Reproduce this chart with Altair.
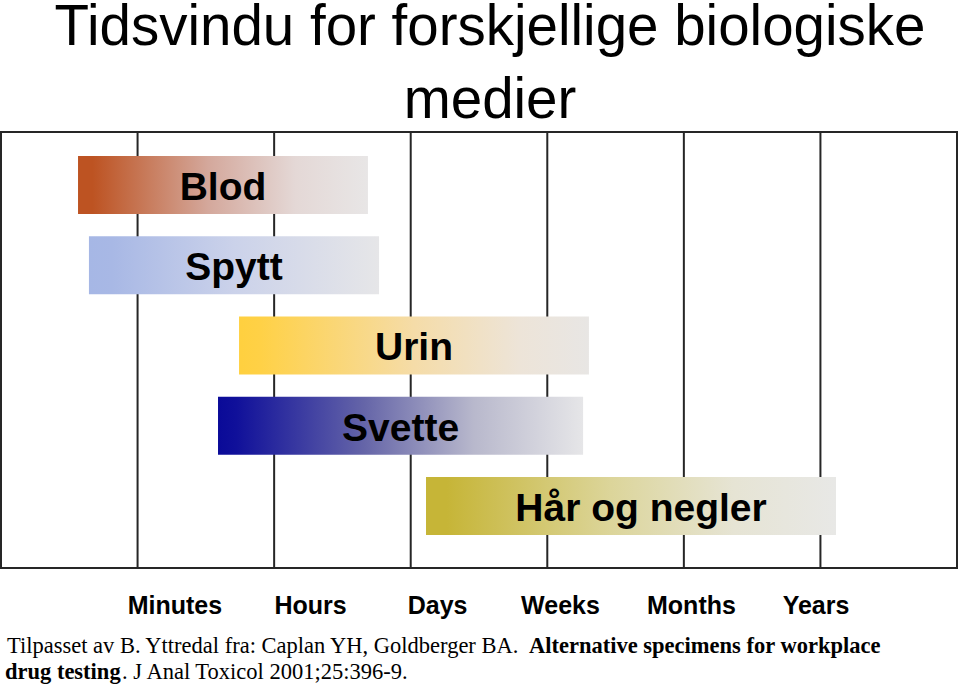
import altair as alt
import pandas as pd

# ---- data ----
media = ["Blod", "Spytt", "Urin", "Svette", "Hår og negler"]
start = [0.564, 0.644, 1.743, 1.589, 3.112]   # in time-column units
end = [2.687, 2.768, 4.305, 4.262, 6.114]
row = [1, 2, 3, 4, 5]

time_units = ["Minutes", "Hours", "Days", "Weeks", "Months", "Years"]
unit_label_pos = [1.27, 2.263, 3.193, 4.093, 5.052, 5.964]
column_edges = [1, 2, 3, 4, 5, 6]

title_lines = ["Tidsvindu for forskjellige biologiske", "medier"]
cite1_normal = "Tilpasset av B. Yttredal fra: Caplan YH, Goldberger BA."
cite1_bold = "Alternative specimens for workplace"
cite2_bold = "drug testing"
cite2_normal = ". J Anal Toxicol 2001;25:396-9."

# ---- styles ----
gradients = {
    "Blod": [(0, "#BD5322"), (0.05, "#BD5322"), (0.45, "#D4A89C"), (0.75, "#E4D8D6"), (1, "#E8E6E6")],
    "Spytt": [(0, "#A6B7E5"), (0.08, "#A8B8E5"), (0.5, "#CBD2EA"), (1, "#E6E6E8")],
    "Urin": [(0, "#FFD03F"), (0.06, "#FFD146"), (0.5, "#F5DCA8"), (0.8, "#EDE4D8"), (1, "#E8E6E4")],
    "Svette": [(0, "#0A0A98"), (0.05, "#10109A"), (0.4, "#6565A8"), (0.7, "#B8B8CC"), (1, "#E6E6E8")],
    "Hår og negler": [(0, "#C6B537"), (0.05, "#C6B537"), (0.45, "#DCD59A"), (0.75, "#E6E4D4"), (1, "#E8E8E6")],
}
label_dx = {"Hår og negler": 10}
LINE = "#262626"
HALF = 0.361

df = pd.DataFrame({"media": media, "start": start, "end": end, "row": row})
df["y0"] = df["row"] - HALF
df["y1"] = df["row"] + HALF
df["mid"] = (df["start"] + df["end"]) / 2

xscale = alt.Scale(domain=[0, 7], nice=False, zero=False)
yscale = alt.Scale(domain=[0.34, 5.773], nice=False, zero=False, reverse=True)

label_expr = (
    "[" + ",".join("'%s'" % t for t in time_units) + "][indexof(["
    + ",".join(str(p) for p in unit_label_pos) + "], datum.value)]"
)

rules = alt.Chart(pd.DataFrame({"edge": column_edges})).mark_rule(
    color=LINE, strokeWidth=2
).encode(
    x=alt.X("edge:Q", scale=xscale, axis=alt.Axis(
        values=unit_label_pos, labelExpr=label_expr, ticks=False, domain=False,
        grid=False, title=None, labelFont="Liberation Sans", labelFontWeight="bold",
        labelFontSize=25, labelColor="black", labelBaseline="alphabetic",
        labelPadding=45, labelFlush=False, labelOverlap=False, labelAlign="center")),
)

layers = [rules]
for m in media:
    stops = [alt.GradientStop(offset=o, color=c) for o, c in gradients[m]]
    grad = alt.LinearGradient(gradient="linear", stops=stops, x1=0, x2=1, y1=0, y2=0)
    bar = alt.Chart(df).transform_filter(alt.datum.media == m).mark_rect(fill=grad).encode(
        x=alt.X("start:Q", scale=xscale),
        x2="end:Q",
        y=alt.Y("y0:Q", scale=yscale, axis=None),
        y2="y1:Q",
    )
    txt = alt.Chart(df).transform_filter(alt.datum.media == m).mark_text(
        font="Liberation Sans", fontWeight="bold", fontSize=39, color="black",
        baseline="alphabetic", dy=15, dx=label_dx.get(m, 0), align="center"
    ).encode(
        x=alt.X("mid:Q", scale=xscale),
        y=alt.Y("row:Q", scale=yscale, axis=None),
        text="media:N",
    )
    layers += [bar, txt]

one = pd.DataFrame({"k": [0]})
def cite(text, x, y, bold):
    return alt.Chart(one).mark_text(
        text=text, font="Liberation Serif", fontSize=22.5,
        fontWeight="bold" if bold else "normal", color="black",
        align="left", baseline="alphabetic"
    ).encode(x=alt.value(x), y=alt.value(y))

layers += [
    cite(cite1_normal, 6, 520.5, False),
    cite(cite1_bold, 528, 520.5, True),
    cite(cite2_bold, 4, 547, True),
    cite(cite2_normal, 121, 547, False),
]

chart = alt.layer(*layers).properties(
    width=956, height=436,
    background="white",
    autosize=alt.AutoSizeParams(type="none"),
    padding={"left": 1, "top": 132, "right": 3, "bottom": 119},
    title=alt.TitleParams(
        text=title_lines, font="Liberation Sans", fontSize=56.5, fontWeight="normal",
        color="black", lineHeight=73, anchor="middle", dx=11, offset=2,
    ),
).configure_view(stroke=LINE, strokeWidth=2)

chart.save("out.html", embed_options={"renderer": "svg", "actions": False})
